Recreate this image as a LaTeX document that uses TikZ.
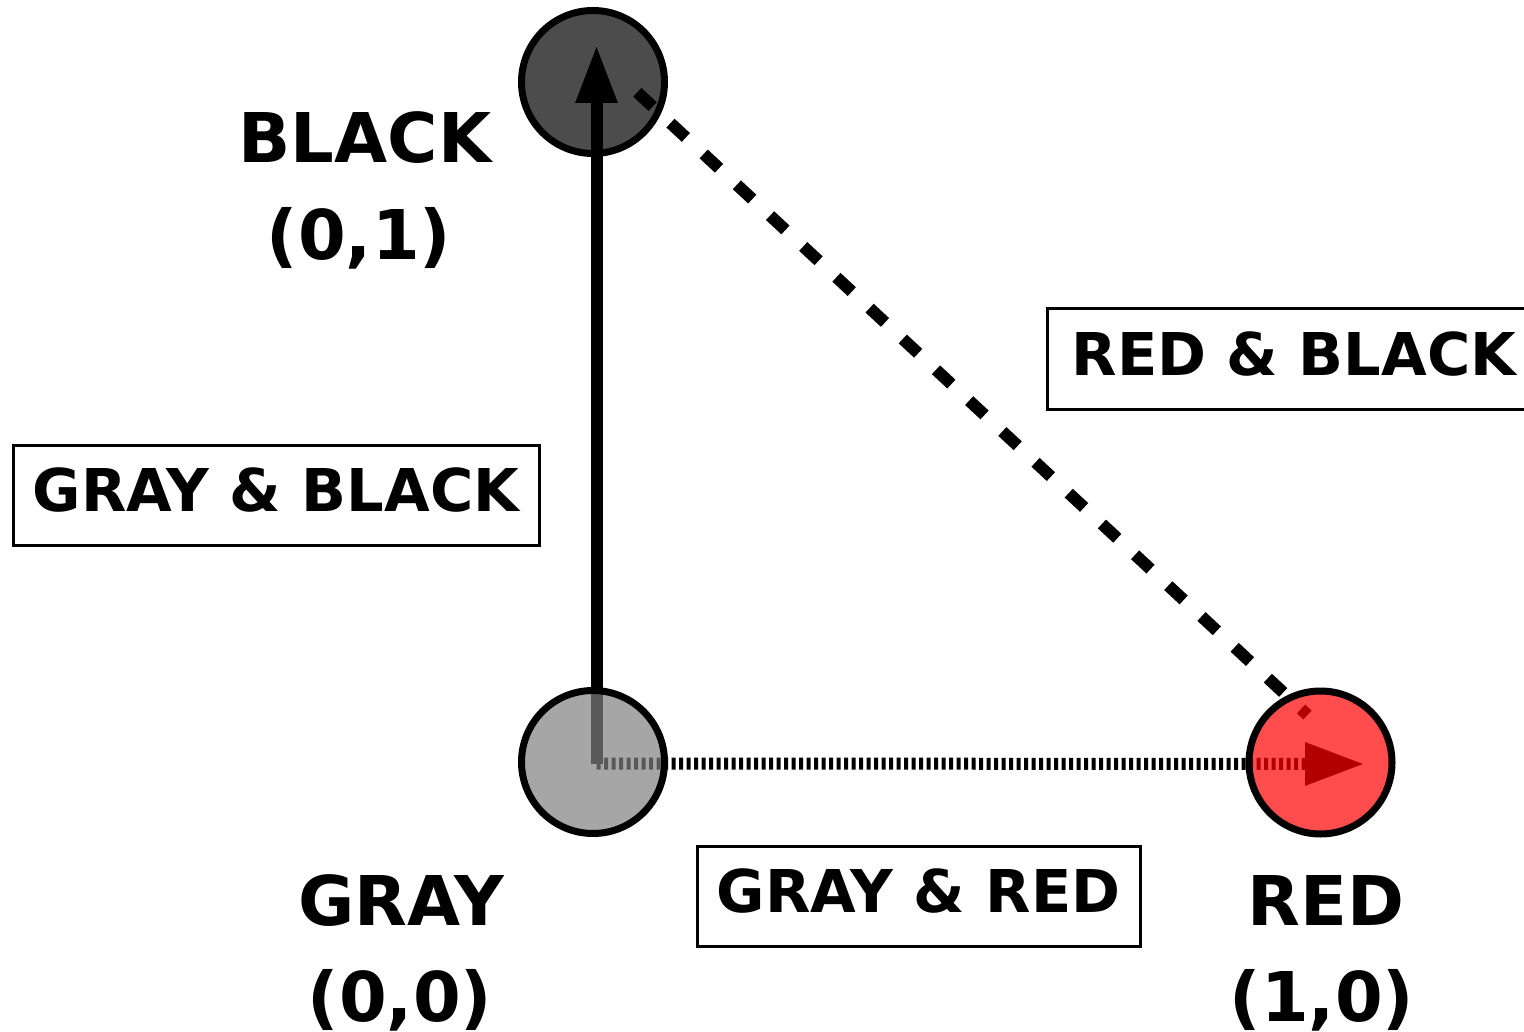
\documentclass[tikz,border=0pt]{standalone}
\usepackage{fontspec}
\setmainfont{DejaVu Sans}
\usetikzlibrary{arrows.meta,backgrounds,calc}
\begin{document}
\begin{tikzpicture}[x=1pt,y=-1pt,
  dot/.style={circle,draw=black,line width=7pt,minimum size=143pt,inner sep=0pt,fill opacity=0.7},
  biglbl/.style={anchor=base,inner sep=0pt,font=\fontsize{68.6}{80}\selectfont\bfseries},
  pairbox/.style={draw=black,line width=3pt,inner sep=0pt,minimum height=100pt,
    text height=50pt,text depth=18pt,font=\fontsize{59}{70}\selectfont\bfseries},
  conn/.style={line width=12pt}]
\useasboundingbox (0,0) rectangle (1524,1032);
% vertices
\node[dot,fill=gray] (ngray) at (593,762) {};
\node[dot,fill=black] (nblack) at (593,82) {};
\node[dot,fill=red] (nred) at (1320.5,762.5) {};
% vertex labels
\node[biglbl] (lblack) at (365,163) {BLACK};
\node[biglbl] (cblack) at (359,260) {(0,1)};
\node[biglbl] (lgray) at (401,925) {GRAY};
\node[biglbl] (cgray) at (400,1021) {(0,0)};
\node[biglbl] (lred) at (1326,925) {RED};
\node[biglbl] (cred) at (1322,1021) {(1,0)};
% edge labels
\node[pairbox,minimum width=526pt] (bgb) at (276,495.5) {GRAY \& BLACK};
\node[pairbox,minimum width=443pt] (bgr) at (918.5,896) {GRAY \& RED};
\node[pairbox,minimum width=494pt] (brb) at (1294,359) {RED \& BLACK};
% connectors
\begin{scope}[on background layer]
\coordinate (o) at ($(ngray.center)+(3.5,1.5)$);
\coordinate (btip) at ($(nblack.center)+(3.5,-37)$);
\coordinate (rtip) at ($(nred.center)+(44.5,1.5)$);
\coordinate (rbs) at ($(nblack.center)+(44.3,10.3)$);
\coordinate (rbe) at ($(nred.center)+(-13,-47.5)$);
\draw[conn,-{Triangle[length=58pt,width=39pt]}] (o) -- (btip);
\draw[conn,dash pattern=on 4pt off 3.5pt,-{Triangle[length=60pt,width=40pt]}] (o) -- (rtip);
\draw[conn,dash pattern=on 21pt off 24.3pt] (rbs) -- (rbe);
\end{scope}
\end{tikzpicture}
\end{document}
